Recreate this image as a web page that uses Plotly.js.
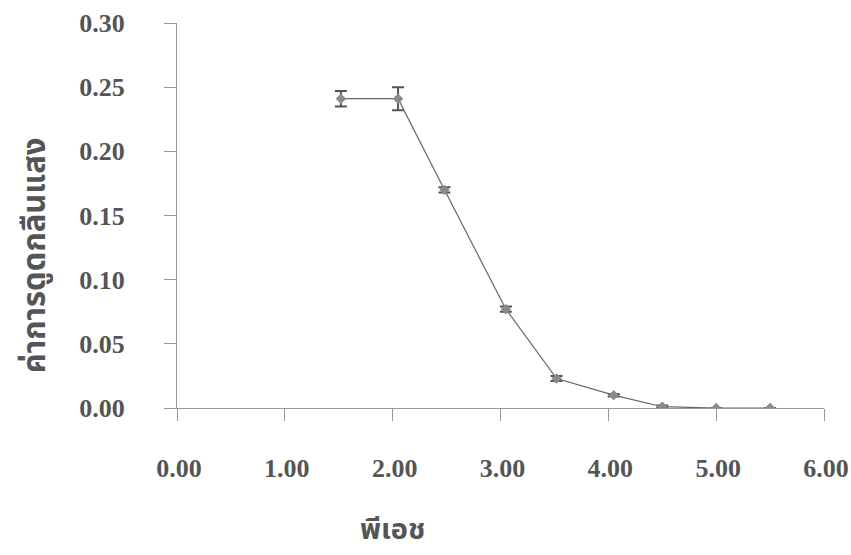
<!DOCTYPE html>
<html>
<head>
<meta charset="utf-8">
<script src="https://cdn.plot.ly/plotly-3.0.1.min.js"></script>
<style>html,body{margin:0;padding:0;background:#fff;}#chart{width:851px;height:555px;}</style>
</head>
<body>
<div id="chart"></div>
<script>
// Data
const pH = [1.52, 2.05, 2.48, 3.05, 3.52, 4.05, 4.50, 5.00, 5.50];
const absorbance = [0.241, 0.241, 0.170, 0.077, 0.023, 0.010, 0.001, 0.000, 0.000];
const absorbanceErr = [0.006, 0.009, 0.002, 0.002, 0.002, 0.001, 0.001, 0.000, 0.000];
const xTickVals = [0, 1, 2, 3, 4, 5, 6];
const xTickText = ["0.00", "1.00", "2.00", "3.00", "4.00", "5.00", "6.00"];
const yTickVals = [0, 0.05, 0.10, 0.15, 0.20, 0.25, 0.30];
const yTickText = ["0.00", "0.05", "0.10", "0.15", "0.20", "0.25", "0.30"];
const xTitle = "พีเอช";
const yTitle = "ค่าการดูดกลืนแสง";

const tickFont = {family: "Liberation Serif, Times New Roman, serif", size: 26, color: "#555", weight: "bold"};
const thaiFontY = {family: "Noto Sans Thai, Noto Sans, DejaVu Sans, sans-serif", size: 31, color: "#555", weight: "bold"};
const thaiFontX = {family: "Noto Sans Thai, Noto Sans, DejaVu Sans, sans-serif", size: 29, color: "#555", weight: "bold"};

const trace = {
  x: pH, y: absorbance, type: "scatter", mode: "lines+markers",
  line: {color: "#666", width: 1.2},
  marker: {symbol: "diamond", size: 8, color: "#8a8a8a"},
  error_y: {type: "data", array: absorbanceErr, visible: true, color: "#555", thickness: 2, width: 6},
  showlegend: false, hoverinfo: "skip"
};

const layout = {
  width: 851, height: 555,
  margin: {l: 177, r: 27, t: 23, b: 147},
  paper_bgcolor: "#fff", plot_bgcolor: "#fff",
  xaxis: {
    range: [0, 6], tickvals: xTickVals, ticktext: xTickText,
    showgrid: false, zeroline: false, showline: true, linecolor: "#999", linewidth: 1,
    ticks: "outside", ticklen: 12, tickcolor: "#999", tickwidth: 1,
    tickfont: tickFont, ticklabelstandoff: 25, ticklabelshift: 2
  },
  yaxis: {
    range: [0, 0.30], tickvals: yTickVals, ticktext: yTickText,
    showgrid: false, zeroline: false, showline: true, linecolor: "#999", linewidth: 1,
    ticks: "outside", ticklen: 12, tickcolor: "#999", tickwidth: 1,
    tickfont: tickFont, ticklabelstandoff: 34
  },
  annotations: [
    {text: xTitle, font: thaiFontX, xref: "x", yref: "paper", x: 2.0, y: 0, yshift: -122,
     xanchor: "center", yanchor: "middle", showarrow: false},
    {text: yTitle, font: thaiFontY, xref: "paper", yref: "y", x: 0, xshift: -142, y: 0.119,
     textangle: -90, xanchor: "center", yanchor: "middle", showarrow: false}
  ]
};

Plotly.newPlot("chart", [trace], layout, {staticPlot: true, displayModeBar: false});
</script>
</body>
</html>
